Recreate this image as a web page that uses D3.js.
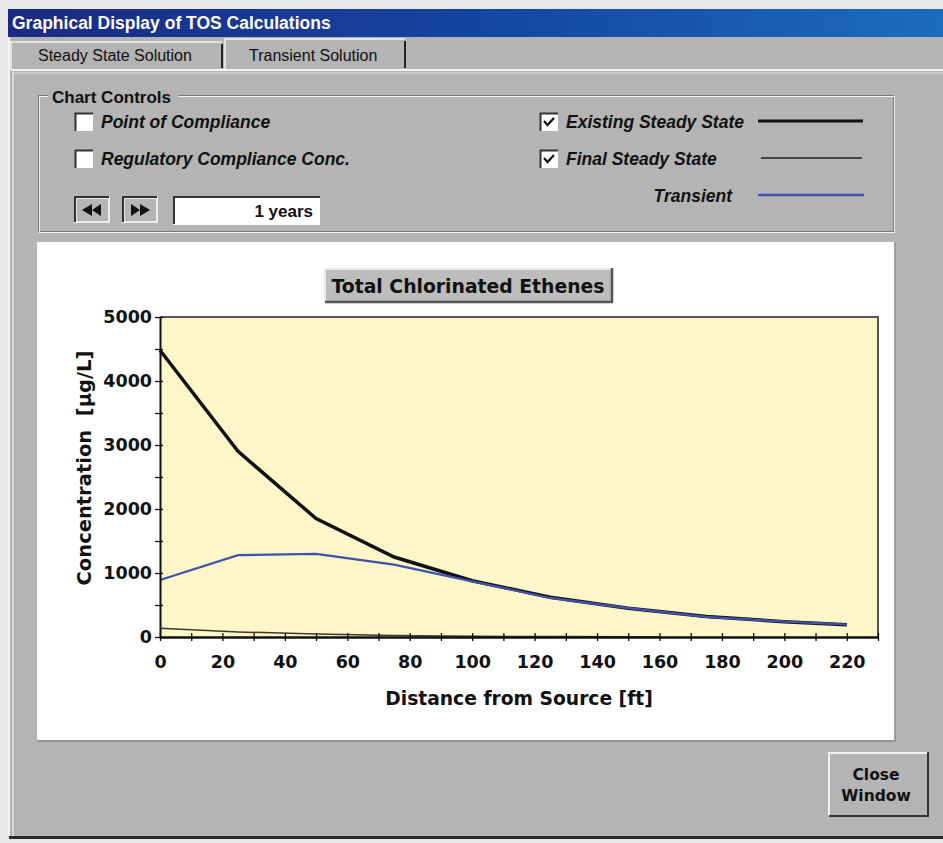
<!DOCTYPE html>
<html><head><meta charset="utf-8">
<script src="https://cdn.jsdelivr.net/npm/d3@7"></script>
<style>body{margin:0;background:#e6e6e6}svg{display:block}</style>
</head><body>
<svg id="c" width="943" height="843"></svg>
<script>
// ---- data ----
const distance = [0, 25, 50, 75, 100, 125, 150, 175, 200, 220];
const existingSteady = [4480, 2900, 1850, 1250, 880, 620, 450, 320, 240, 190];
const transient = [890, 1280, 1300, 1130, 870, 610, 450, 315, 240, 195];
const finalDistance = [0, 25, 50, 75, 100, 125, 150, 160];
const finalSteady = [135, 80, 45, 25, 12, 6, 3, 2];
const yTicks = [0, 1000, 2000, 3000, 4000, 5000];
const xTicks = [0, 20, 40, 60, 80, 100, 120, 140, 160, 180, 200, 220];
const chartTitle = "Total Chlorinated Ethenes";
const xTitle = "Distance from Source [ft]";
const yTitle = "Concentration\u00a0\u00a0[µg/L]";

const svg = d3.select("#c");
const UI = "'Liberation Sans', Arial, sans-serif";
const CH = "'DejaVu Sans', Verdana, sans-serif";
const GRAY = "#b4b4b4";

// ---- window chrome ----
const defs = svg.append("defs");
const g1 = defs.append("linearGradient").attr("id","tb").attr("x1","0").attr("x2","1");
g1.append("stop").attr("offset","0").attr("stop-color","#1b2a82");
g1.append("stop").attr("offset","0.55").attr("stop-color","#1448a6");
g1.append("stop").attr("offset","1").attr("stop-color","#1d6cc0");

svg.append("rect").attr("x",0).attr("y",0).attr("width",943).attr("height",843).attr("fill","#e8e8e8");
svg.append("rect").attr("x",8).attr("y",37).attr("width",935).attr("height",800).attr("fill",GRAY);
svg.append("rect").attr("x",8).attr("y",9).attr("width",935).attr("height",28).attr("fill","url(#tb)");
svg.append("text").attr("x",12).attr("y",29).attr("font-family",UI).attr("font-weight","bold")
  .attr("font-size",17.5).attr("fill","#fff").text("Graphical Display of TOS Calculations");
svg.append("line").attr("x1",9).attr("x2",9).attr("y1",37).attr("y2",836).attr("stroke","#f4f4f4").attr("stroke-width",2);

// tabs
function tab(x, w, y, label, tx){
  svg.append("rect").attr("x",x).attr("y",y).attr("width",w).attr("height",70-y).attr("fill",GRAY);
  svg.append("path").attr("d",`M${x},70 V${y} H${x+w}`).attr("fill","none").attr("stroke","#f2f2f2").attr("stroke-width",1.5);
  svg.append("line").attr("x1",x+w).attr("x2",x+w).attr("y1",y+2).attr("y2",68).attr("stroke","#222").attr("stroke-width",2);
  svg.append("text").attr("x",tx).attr("y",61).attr("font-family",UI).attr("font-size",16).attr("fill","#111").text(label);
}
tab(11, 211, 42, "Steady State Solution", 38);
tab(225, 180, 39, "Transient Solution", 249);
svg.append("line").attr("x1",11).attr("x2",943).attr("y1",70).attr("y2",70).attr("stroke","#f4f4f4").attr("stroke-width",2);
svg.append("line").attr("x1",13).attr("x2",943).attr("y1",73).attr("y2",73).attr("stroke","#dedede").attr("stroke-width",1);
svg.append("line").attr("x1",13).attr("x2",13).attr("y1",72).attr("y2",836).attr("stroke","#e6e6e6").attr("stroke-width",1.5);
svg.append("line").attr("x1",9).attr("x2",943).attr("y1",837.5).attr("y2",837.5).attr("stroke","#2a2a2a").attr("stroke-width",3);

// group box
svg.append("rect").attr("x",38.5).attr("y",95.5).attr("width",855).attr("height",136).attr("fill","none").attr("stroke","#7a7a7a");
svg.append("rect").attr("x",39.5).attr("y",96.5).attr("width",855).attr("height",136).attr("fill","none").attr("stroke","#f0f0f0");
svg.append("rect").attr("x",48).attr("y",88).attr("width",130).attr("height",14).attr("fill",GRAY);
svg.append("text").attr("x",52).attr("y",103).attr("font-family",UI).attr("font-weight","bold").attr("font-size",17).attr("fill","#111").text("Chart Controls");

function checkbox(x, y, checked){
  svg.append("rect").attr("x",x).attr("y",y).attr("width",18).attr("height",18).attr("fill","#fff");
  svg.append("path").attr("d",`M${x+0.5},${y+18} V${y+0.5} H${x+18}`).attr("fill","none").attr("stroke","#333").attr("stroke-width",2);
  if(checked) svg.append("path").attr("d",`M${x+4},${y+8} L${x+7.5},${y+12} L${x+14},${y+5}`).attr("fill","none").attr("stroke","#111").attr("stroke-width",2.2);
}
function label(x, y, t, anchor){
  svg.append("text").attr("x",x).attr("y",y).attr("font-family",UI).attr("font-weight","bold").attr("font-style","italic")
    .attr("font-size",17.5).attr("fill","#111").attr("text-anchor",anchor||"start").text(t);
}
checkbox(75, 113, false); label(101, 128, "Point of Compliance");
checkbox(75, 150, false); label(101, 165, "Regulatory Compliance Conc.");
checkbox(540, 113, true); label(566, 128, "Existing Steady State");
checkbox(540, 150, true); label(566, 165, "Final Steady State");
label(732, 202, "Transient", "end");
svg.append("line").attr("x1",758).attr("x2",863).attr("y1",121).attr("y2",121).attr("stroke","#111").attr("stroke-width",3);
svg.append("line").attr("x1",761).attr("x2",862).attr("y1",158).attr("y2",158).attr("stroke","#222").attr("stroke-width",1.5);
svg.append("line").attr("x1",758).attr("x2",864).attr("y1",195).attr("y2",195).attr("stroke","#4657b0").attr("stroke-width",2.5);

// nav buttons
function navBtn(x, dir){
  svg.append("rect").attr("x",x).attr("y",196).attr("width",36).attr("height",27).attr("fill","#ececec");
  svg.append("rect").attr("x",x+3).attr("y",199).attr("width",31).attr("height",22).attr("fill",GRAY);
  svg.append("path").attr("d",`M${x+1},${222} V${197} H${x+35}`).attr("fill","none").attr("stroke","#333").attr("stroke-width",2);
  const cx = x+18, cy = 210;
  const d = dir<0
    ? `M${cx-10},${cy} L${cx},${cy-6} V${cy+6}Z M${cx},${cy} L${cx+9},${cy-6} V${cy+6}Z`
    : `M${cx+10},${cy} L${cx},${cy-6} V${cy+6}Z M${cx},${cy} L${cx-9},${cy-6} V${cy+6}Z`;
  svg.append("path").attr("d",d).attr("fill","#111");
}
navBtn(74, -1); navBtn(122, 1);
svg.append("rect").attr("x",173).attr("y",196).attr("width",147).attr("height",29).attr("fill","#fff");
svg.append("path").attr("d","M174,224 V197 H320").attr("fill","none").attr("stroke","#333").attr("stroke-width",2);
svg.append("text").attr("x",313).attr("y",217).attr("font-family",UI).attr("font-weight","bold").attr("font-size",17)
  .attr("text-anchor","end").attr("fill","#111").text("1 years");

// chart panel
svg.append("rect").attr("x",37).attr("y",242).attr("width",858).attr("height",498).attr("fill","#fff");
svg.append("path").attr("d","M37,741 H895 V242").attr("fill","none").attr("stroke","#8a8a8a").attr("stroke-width",1.5);

// close button
svg.append("rect").attr("x",828).attr("y",752).attr("width",100).attr("height",64).attr("fill","#f2f2f2");
svg.append("rect").attr("x",830).attr("y",754).attr("width",97).attr("height",61).attr("fill",GRAY);
svg.append("path").attr("d","M829,816 H928 V752").attr("fill","none").attr("stroke","#333").attr("stroke-width",2);
svg.append("text").attr("x",876).attr("y",780).attr("font-family",CH).attr("font-weight","bold").attr("font-size",15.5)
  .attr("text-anchor","middle").attr("fill","#111").text("Close");
svg.append("text").attr("x",876).attr("y",801).attr("font-family",CH).attr("font-weight","bold").attr("font-size",15.5)
  .attr("text-anchor","middle").attr("fill","#111").text("Window");

// ---- chart ----
const L = 160, R = 878, T = 317, B = 637;
const x = d3.scaleLinear().domain([0, 230]).range([L, R]);
const y = d3.scaleLinear().domain([0, 5000]).range([B, T]);

// title button
svg.append("rect").attr("x",324).attr("y",268).attr("width",288).attr("height",34).attr("fill","#e8e8e8");
svg.append("rect").attr("x",326).attr("y",270).attr("width",285).attr("height",31).attr("fill","#bdbdbd");
svg.append("path").attr("d","M325,302 H612 V268").attr("fill","none").attr("stroke","#555").attr("stroke-width",2.5);
svg.append("text").attr("x",468).attr("y",293).attr("font-family",CH).attr("font-weight","bold").attr("font-size",18.8)
  .attr("text-anchor","middle").attr("fill","#111").text(chartTitle);

svg.append("rect").attr("x",L).attr("y",T).attr("width",R-L).attr("height",B-T).attr("fill","#fdf6c8");
svg.append("path").attr("d",`M${L},${T} H${R} V${B}`).attr("fill","none").attr("stroke","#555").attr("stroke-width",2);

// series
const line = d3.line().x(d=>x(d[0])).y(d=>y(d[1]));
svg.append("path").datum(finalDistance.map((d,i)=>[d, finalSteady[i]])).attr("d",line)
  .attr("fill","none").attr("stroke","#3a3a30").attr("stroke-width",1.5);
svg.append("path").datum(distance.map((d,i)=>[d, existingSteady[i]])).attr("d",line)
  .attr("fill","none").attr("stroke","#111").attr("stroke-width",3.5);
svg.append("path").datum(distance.map((d,i)=>[d, transient[i]])).attr("d",line)
  .attr("fill","none").attr("stroke","#3f52ad").attr("stroke-width",2.2);

// axes
const yMinor = svg.append("g").attr("transform",`translate(${L},0)`)
  .call(d3.axisLeft(y).tickValues(d3.range(0, 5001, 500)).tickFormat("").tickSize(0));
yMinor.selectAll("line").attr("x1",-5).attr("x2",3).attr("stroke","#111").attr("stroke-width",1.3);
yMinor.select(".domain").attr("stroke","#111").attr("stroke-width",2);
const yLab = svg.append("g").attr("transform",`translate(${L},0)`)
  .call(d3.axisLeft(y).tickValues(yTicks).tickFormat(d3.format("d")).tickSize(0).tickPadding(8));
yLab.select(".domain").remove();
yLab.selectAll("text").attr("font-family",CH).attr("font-weight","bold").attr("font-size",17.5).attr("fill","#111");

const xMinor = svg.append("g").attr("transform",`translate(0,${B})`)
  .call(d3.axisBottom(x).tickValues(d3.range(0, 231, 10)).tickFormat("").tickSize(0));
xMinor.selectAll("line").attr("y1",-4).attr("y2",4).attr("stroke","#111").attr("stroke-width",1.3);
xMinor.select(".domain").attr("stroke","#111").attr("stroke-width",2.5);
const xLab = svg.append("g").attr("transform",`translate(0,${B})`)
  .call(d3.axisBottom(x).tickValues(xTicks).tickFormat(d3.format("d")).tickSize(0).tickPadding(19));
xLab.select(".domain").remove();
xLab.selectAll("text").attr("font-family",CH).attr("font-weight","bold").attr("font-size",17.5).attr("fill","#111");

svg.append("text").attr("x",519).attr("y",705).attr("font-family",CH).attr("font-weight","bold").attr("font-size",18.7)
  .attr("text-anchor","middle").attr("fill","#111").text(xTitle);
svg.append("text").attr("transform","translate(91,468) rotate(-90)").attr("font-family",CH).attr("font-weight","bold")
  .attr("font-size",19.5).attr("text-anchor","middle").attr("fill","#111").text(yTitle);
</script>
</body></html>
